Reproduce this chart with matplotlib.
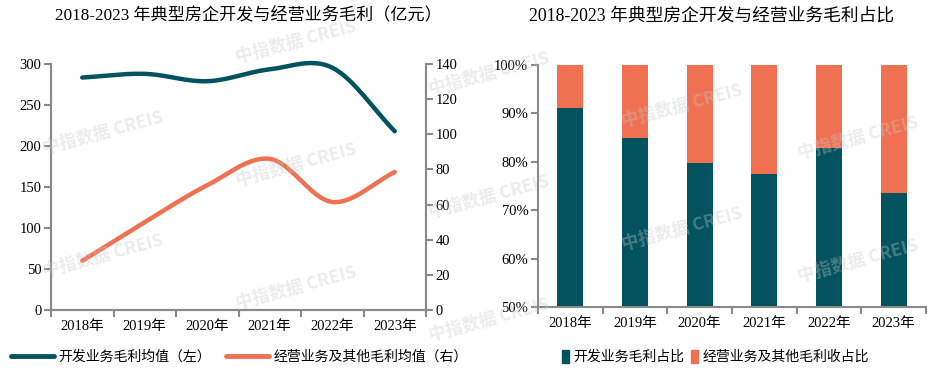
import numpy as np
import matplotlib
matplotlib.use("Agg")
import matplotlib.pyplot as plt
from matplotlib.lines import Line2D
from matplotlib.patches import Patch

plt.rcParams['font.family'] = ['Liberation Serif', 'Noto Sans CJK SC', 'DejaVu Sans']

years = ['2018年', '2019年', '2020年', '2021年', '2022年', '2023年']
dev_profit = [283.5, 288, 279, 293.5, 295.5, 218]     # 开发业务毛利均值（左）
ops_profit = [28, 50, 71, 86, 61.5, 78.5]             # 经营业务及其他毛利均值（右）
dev_share = [91.1, 84.9, 79.7, 77.4, 82.8, 73.5]       # 开发业务毛利占比 (%)
ops_share = [100 - v for v in dev_share]               # 经营业务及其他毛利收占比 (%)

left_ticks = [0, 50, 100, 150, 200, 250, 300]
right_ticks = [0, 20, 40, 60, 80, 100, 120, 140]
pct_ticks = [50, 60, 70, 80, 90, 100]

DARK = '#02525F'
ORANGE = '#F07152'
SPINE = '#8a8a8a'
FS = 10.5
LFS = 10

W, H = 935, 373
fig = plt.figure(figsize=(W / 100, H / 100), dpi=100)


def smooth(xs, ys, n=30):
    xs = np.asarray(xs, float)
    ys = np.asarray(ys, float)
    px = np.concatenate([[2 * xs[0] - xs[1]], xs, [2 * xs[-1] - xs[-2]]])
    py = np.concatenate([[2 * ys[0] - ys[1]], ys, [2 * ys[-1] - ys[-2]]])
    ox, oy = [], []
    for i in range(1, len(px) - 2):
        t = np.linspace(0, 1, n, endpoint=False)
        for arr, out in ((px, ox), (py, oy)):
            p0, p1, p2, p3 = arr[i - 1], arr[i], arr[i + 1], arr[i + 2]
            out.extend(0.5 * ((2 * p1) + (-p0 + p2) * t +
                              (2 * p0 - 5 * p1 + 4 * p2 - p3) * t ** 2 +
                              (-p0 + 3 * p1 - 3 * p2 + p3) * t ** 3))
    ox.append(xs[-1]); oy.append(ys[-1])
    return np.array(ox), np.array(oy)


def axrect(l, t, r, b):
    return [l / W, 1 - b / H, (r - l) / W, (b - t) / H]

# ---------- Left chart ----------
ax1 = fig.add_axes(axrect(51, 64, 426, 310))
ax2 = ax1.twinx()
x = np.arange(len(years))
sx, sy = smooth(x, dev_profit)
ax1.plot(sx, sy, color=DARK, lw=3.2, solid_capstyle='round', zorder=3, clip_on=False)
sx2, sy2 = smooth(x, ops_profit)
ax2.plot(sx2, sy2, color=ORANGE, lw=3.2, solid_capstyle='round', zorder=3, clip_on=False)

ax1.set_xlim(-0.5, len(years) - 0.5)
ax1.set_ylim(0, 300)
ax2.set_ylim(0, 140)
ax1.set_yticks(left_ticks)
ax2.set_yticks(right_ticks)
ax1.set_xticks(x)
ax1.set_xticklabels(years, fontsize=FS)
ax1.set_xticks(np.arange(-0.5, len(years)), minor=True)
ax1.tick_params(axis='x', which='major', length=0, pad=7)
ax1.tick_params(axis='x', which='minor', length=5, width=1.5, color=SPINE, direction='out')
ax1.tick_params(axis='y', length=5, width=1.5, color=SPINE, labelsize=FS, pad=2)
ax2.tick_params(axis='y', length=5, width=1.5, color=SPINE, labelsize=FS, pad=2)
for a in (ax1, ax2):
    a.spines['top'].set_visible(False)
    for s in ('left', 'right', 'bottom'):
        a.spines[s].set_color(SPINE)
        a.spines[s].set_linewidth(1.5)

fig.text(248 / W, 1 - 16 / H, '2018-2023 年典型房企开发与经营业务毛利（亿元）',
         ha='center', va='center', fontsize=12.3)

h1 = [Line2D([], [], color=DARK, lw=3.5, solid_capstyle='round'),
      Line2D([], [], color=ORANGE, lw=3.5, solid_capstyle='round')]
fig.legend(h1, ['开发业务毛利均值（左）', '经营业务及其他毛利均值（右）'],
           loc='center left', bbox_to_anchor=(11 / W, 1 - 357 / H), ncol=2,
           frameon=False, fontsize=LFS, handlelength=3.1, handletextpad=0.3,
           columnspacing=1.1, borderaxespad=0, borderpad=0)

# ---------- Right chart ----------
ax3 = fig.add_axes(axrect(538, 65, 926, 307))
ax3.bar(x, [v - 50 for v in dev_share], bottom=50, width=0.4, color=DARK, zorder=2)
ax3.bar(x, ops_share, bottom=dev_share, width=0.4, color=ORANGE, zorder=2)
ax3.set_xlim(-0.5, len(years) - 0.5)
ax3.set_ylim(50, 100)
ax3.set_yticks(pct_ticks)
ax3.set_yticklabels([f'{v}%' for v in pct_ticks], fontsize=FS)
ax3.set_xticks(x)
ax3.set_xticklabels(years, fontsize=FS)
ax3.set_xticks(np.arange(-0.5, len(years)), minor=True)
ax3.tick_params(axis='x', which='major', length=0, pad=7)
ax3.tick_params(axis='x', which='minor', length=5, width=1.5, color=SPINE)
ax3.tick_params(axis='y', length=5, width=1.5, color=SPINE, pad=2)
for s in ('top', 'right'):
    ax3.spines[s].set_visible(False)
for s in ('left', 'bottom'):
    ax3.spines[s].set_color(SPINE)
    ax3.spines[s].set_linewidth(1.5)

fig.text(712 / W, 1 - 16 / H, '2018-2023 年典型房企开发与经营业务毛利占比',
         ha='center', va='center', fontsize=12.8)

h2 = [Patch(color=DARK), Patch(color=ORANGE)]
fig.legend(h2, ['开发业务毛利占比', '经营业务及其他毛利收占比'],
           loc='center left', bbox_to_anchor=(562 / W, 1 - 357 / H), ncol=2,
           frameon=False, fontsize=LFS, handlelength=0.5, handleheight=1.1,
           handletextpad=0.3, columnspacing=0.5, borderaxespad=0, borderpad=0)

# ---------- Watermarks ----------
cols = [103, 296, 489, 682, 858]
for ci, cx in enumerate(cols):
    base = 133 + 32 * ci
    for k in (-2, -1, 0, 1, 2):
        cy = base + 123 * k
        if 28 < cy < H - 28:
            fig.text(cx / W, 1 - cy / H, '中指数据 CREIS', ha='center', va='center',
                     rotation=15, fontsize=12.5, fontweight='bold',
                     family=['Noto Sans CJK SC', 'DejaVu Sans'],
                     color='#c8c8c8', alpha=0.35, zorder=10)

fig.savefig('out.png', dpi=100)
